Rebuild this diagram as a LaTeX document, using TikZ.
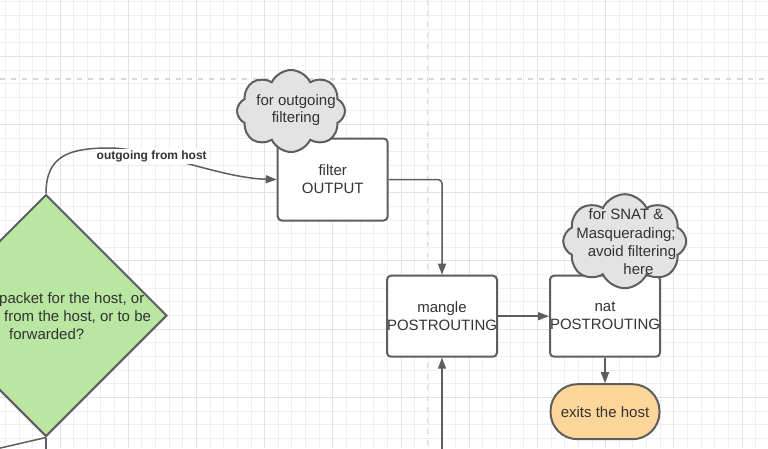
\documentclass[tikz,border=0pt]{standalone}
\usepackage{fontspec}
\setmainfont{Liberation Sans}
\usetikzlibrary{shapes.geometric,shapes.symbols,arrows.meta}
\definecolor{gridminor}{HTML}{EFEFEF}
\definecolor{gridmajor}{HTML}{E2E2E2}
\definecolor{dashgray}{HTML}{D9D9D9}
\definecolor{edge}{HTML}{5E5E5E}
\definecolor{txt}{HTML}{333333}
\definecolor{cloudfill}{HTML}{E3E3E3}
\definecolor{dgreen}{HTML}{B9E7A2}
\definecolor{orangefill}{HTML}{FFD699}
\begin{document}
\begin{tikzpicture}[x=1pt,y=-1pt,
  mainfont/.style={font=\fontsize{15}{18}\selectfont, text=txt},
  box/.style={mainfont, draw=edge, line width=2pt, fill=white, rounded corners=4pt,
    minimum width=109pt, minimum height=81pt, inner sep=0pt, align=center},
  cloudbox/.style={cloud, cloud puffs=8, cloud puff arc=130, cloud ignores aspect,
    draw=edge, fill=cloudfill, line width=2pt, inner sep=0pt},
  plaintext/.style={mainfont, inner sep=0pt, align=center},
  conn/.style={draw=edge, line width=1.5pt, -{Triangle[length=11pt,width=8pt]}},
  stub/.style={draw=edge, line width=1.5pt}
]
\useasboundingbox (0,0) rectangle (768,448);
% background grid
\fill[white] (0,0) rectangle (768,448);
\foreach \i in {0,...,56} {\draw[gridminor, line width=0.8pt] ({5.4+13.64*\i},0) -- ({5.4+13.64*\i},448);}
\foreach \j in {0,...,33} {\draw[gridminor, line width=0.8pt] (0,{1.7+13.64*\j}) -- (768,{1.7+13.64*\j});}
\foreach \i in {0,...,11} {\draw[gridmajor, line width=0.9pt] ({59.96+68.2*\i},0) -- ({59.96+68.2*\i},448);}
\foreach \j in {0,...,6} {\draw[gridmajor, line width=0.9pt] (0,{56.26+68.2*\j}) -- (768,{56.26+68.2*\j});}
% dashed guide lines
\draw[dashgray, line width=1.6pt, dash pattern=on 5pt off 6pt] (0,79) -- (768,79);
\draw[dashgray, line width=1.6pt, dash pattern=on 5pt off 6pt] (427.5,0) -- (427.5,448);

% decision diamond
\node[diamond, aspect=1, minimum width=242pt, minimum height=242pt, inner sep=0pt,
  draw=edge, line width=2pt, fill=dgreen] (dia) at (46,315.5) {};
\node[mainfont, anchor=west, align=left, inner sep=0pt] (diatext) at (-1,316)
  {packet for the host, or\\ \hspace*{5pt}from the host, or to be\\ \hspace*{10pt}forwarded?};

% boxes
\node[box, minimum width=110pt, minimum height=82pt] (filter) at (332.7,179.5) {filter\\OUTPUT};
\node[box] (mangle) at (442,316.2) {mangle\\POSTROUTING};
\node[box] (nat) at (605,316.2) {nat\\POSTROUTING};
\node[box, fill=orangefill, minimum height=55pt, rounded corners=27pt] (exits) at (605,411.7) {exits the host};

% connectors
\coordinate (bend) at (110,148);
\draw[conn] (dia.north) .. controls (46,155) and (70,148) .. (bend)
  .. controls (150,148) and (220,178) .. (filter.west);
\node[font=\fontsize{12}{14}\selectfont\bfseries, text=txt, fill=white, inner xsep=1pt, inner ysep=1.5pt] (lbl) at (151.7,156.5) {outgoing from host};
\draw[conn, rounded corners=4pt] (filter.east) -| (mangle.north);
\draw[conn] (mangle.east) -- (nat.west);
\draw[conn] (nat.south) -- (exits.north);
\coordinate (inbottom) at (442,450);
\draw[conn] (inbottom) -- (mangle.south);
\coordinate (diaout1) at (46,450);
\coordinate (diaout2) at (-4,449);
\draw[stub] (dia.south) -- (diaout1);
\draw[stub] (dia.south) -- (diaout2);

% clouds
\node[cloudbox, minimum width=108pt, minimum height=82pt] (cloudA) at (291,111) {};
\node[plaintext, font=\fontsize{15}{17.6}\selectfont] (cloudAtext) at (296,110) {for outgoing\\filtering};
\node[cloudbox, minimum width=123pt, minimum height=94pt] (cloudB) at (624.7,241.2) {};
\node[plaintext, font=\fontsize{15}{18.3}\selectfont] (cloudBtext) at (626,242)
  {for SNAT \&\\Masquerading;\\\hspace*{12pt}avoid filtering\\\hspace*{25pt}here};
\end{tikzpicture}
\end{document}
